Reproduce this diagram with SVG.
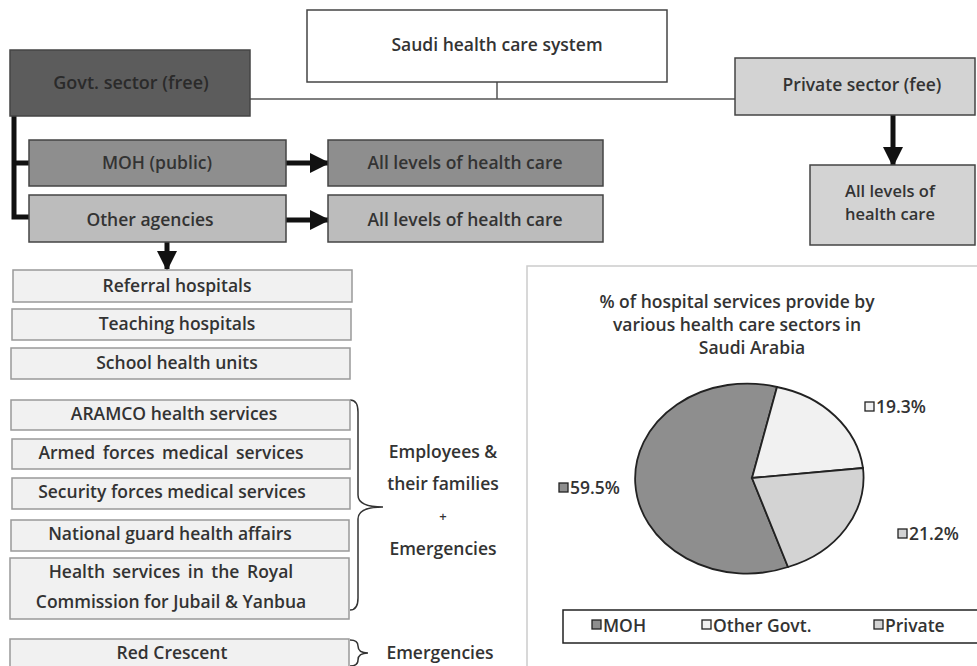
<svg xmlns="http://www.w3.org/2000/svg" width="977" height="666" viewBox="0 0 977 666">
<defs>
<style>
text{font-family:"Open Sans","Liberation Sans",sans-serif;font-weight:600;fill:#333;text-anchor:middle;font-size:17.5px}
.s{text-anchor:start}
.box{stroke:#444;stroke-width:1.5}
.lbox{fill:#f1f1f1;stroke:#999;stroke-width:1.5}
.thick{stroke:#111;stroke-width:5;fill:none}
.thin{stroke:#555;stroke-width:1.5;fill:none}
.brace{stroke:#333;stroke-width:1.5;fill:none}
</style>
<marker id="ah" viewBox="0 0 10 10" refX="9" refY="5" markerWidth="4" markerHeight="4" orient="auto" markerUnits="strokeWidth">
<path d="M0,0 L10,5 L0,10 z" fill="#111"/>
</marker>
</defs>
<rect width="977" height="666" fill="#fff"/>

<g id="connectors">
<path class="thin" d="M497,82 V99 M250,99 H735"/>
<path class="thick" d="M14,116 V217 H29 M14,163 H29"/>
<line class="thick" x1="286" y1="163" x2="328" y2="163" marker-end="url(#ah)"/>
<line class="thick" x1="286" y1="220" x2="328" y2="220" marker-end="url(#ah)"/>
<line class="thick" x1="167" y1="242" x2="167" y2="269" marker-end="url(#ah)"/>
<line class="thick" x1="893" y1="115" x2="893" y2="165" marker-end="url(#ah)"/>
<path class="brace" d="M350,400 Q358,400 358,412 V495 Q358,507 383,507 Q358,507 358,519 V598 Q358,610 350,610"/>
<path class="brace" d="M350,640 Q358,640 358,646 Q358,653 368,653 Q358,653 358,660 Q358,666 350,666"/>
</g>

<g id="n-saudi"><rect class="box" x="307" y="10" width="360" height="72" fill="#fff"/><text x="497" y="51">Saudi health care system</text></g>
<g id="n-govt"><rect class="box" x="10" y="50" width="240" height="66" fill="#5c5c5c"/><text x="131" y="89" style="fill:#2a2a2a;font-size:18px">Govt. sector (free)</text></g>
<g id="n-private"><rect class="box" x="735" y="58" width="240" height="57" fill="#d3d3d3"/><text x="862" y="91">Private sector (fee)</text></g>
<g id="n-private-all"><rect class="box" x="810" y="165" width="165" height="80" fill="#d3d3d3"/><text x="890" y="197" style="font-size:16.5px">All levels of</text><text x="890" y="220" style="font-size:16.5px">health care</text></g>
<g id="n-moh"><rect class="box" x="29" y="140" width="257" height="46" fill="#8e8e8e"/><text x="157" y="169">MOH (public)</text></g>
<g id="n-moh-all"><rect class="box" x="328" y="140" width="275" height="46" fill="#8e8e8e"/><text x="465" y="169">All levels of health care</text></g>
<g id="n-other"><rect class="box" x="29" y="195" width="257" height="47" fill="#bcbcbc"/><text x="150" y="226">Other agencies</text></g>
<g id="n-other-all"><rect class="box" x="328" y="195" width="275" height="47" fill="#bcbcbc"/><text x="465" y="226">All levels of health care</text></g>

<g id="n-referral"><rect class="lbox" x="13" y="270" width="339" height="32"/><text x="177" y="292">Referral hospitals</text></g>
<g id="n-teaching"><rect class="lbox" x="12" y="309" width="339" height="31"/><text x="177" y="330">Teaching hospitals</text></g>
<g id="n-school"><rect class="lbox" x="11" y="348" width="339" height="31"/><text x="177" y="369">School health units</text></g>
<g id="n-aramco"><rect class="lbox" x="11" y="400" width="339" height="30"/><text x="174" y="420">ARAMCO health services</text></g>
<g id="n-armed"><rect class="lbox" x="12" y="439" width="338" height="30"/><text x="171" y="459" style="word-spacing:3px">Armed forces medical services</text></g>
<g id="n-security"><rect class="lbox" x="12" y="478" width="338" height="31"/><text x="172" y="498">Security forces medical services</text></g>
<g id="n-national"><rect class="lbox" x="11" y="520" width="338" height="31"/><text x="170" y="540">National  guard health affairs</text></g>
<g id="n-royal"><rect class="lbox" x="10" y="558" width="339" height="61"/><text x="171" y="578" style="word-spacing:3px">Health services in the Royal</text><text x="171" y="608">Commission for Jubail &amp; Yanbua</text></g>
<g id="n-red"><rect class="lbox" x="10" y="639" width="339" height="32"/><text x="172" y="659">Red Crescent</text></g>

<g id="lbl-emp">
<text x="443" y="458">Employees &amp;</text>
<text x="443" y="490">their families</text>
<text x="443" y="521" style="font-size:13px">+</text>
<text x="443" y="555">Emergencies</text>
<text x="440" y="659">Emergencies</text>
</g>

<g id="chart">
<rect x="527" y="266" width="460" height="410" fill="#fff" stroke="#ccc" stroke-width="1.5"/>
<text x="737" y="308">% of hospital services provide by</text>
<text x="737" y="331">various health care sectors in</text>
<text x="752" y="354">Saudi Arabia</text>
<g stroke="#222" stroke-width="1.8">
<path d="M752,478 L777,387 A112,95 0 1,0 788,567 Z" fill="#8e8e8e"/>
<path d="M752,478 L777,387 A112,95 0 0,1 863,468 Z" fill="#f1f1f1"/>
<path d="M752,478 L863,468 A112,95 0 0,1 788,567 Z" fill="#d3d3d3"/>
</g>
<g stroke="#222" stroke-width="1.3">
<rect x="865" y="402" width="9" height="9" fill="#f1f1f1"/>
<rect x="559" y="483" width="9" height="9" fill="#8e8e8e"/>
<rect x="898" y="529" width="9" height="9" fill="#d3d3d3"/>
</g>
<text class="s" x="876" y="413">19.3%</text>
<text class="s" x="570" y="494">59.5%</text>
<text class="s" x="909" y="540">21.2%</text>
<rect x="563" y="610" width="420" height="33" fill="#fff" stroke="#222" stroke-width="1.5"/>
<g stroke="#222" stroke-width="1.3">
<rect x="592" y="620" width="9" height="9" fill="#8e8e8e"/>
<rect x="702" y="620" width="9" height="9" fill="#f1f1f1"/>
<rect x="874" y="620" width="9" height="9" fill="#d3d3d3"/>
</g>
<text class="s" x="603" y="632">MOH</text>
<text class="s" x="713" y="632">Other Govt.</text>
<text class="s" x="885" y="632">Private</text>
</g>
</svg>
